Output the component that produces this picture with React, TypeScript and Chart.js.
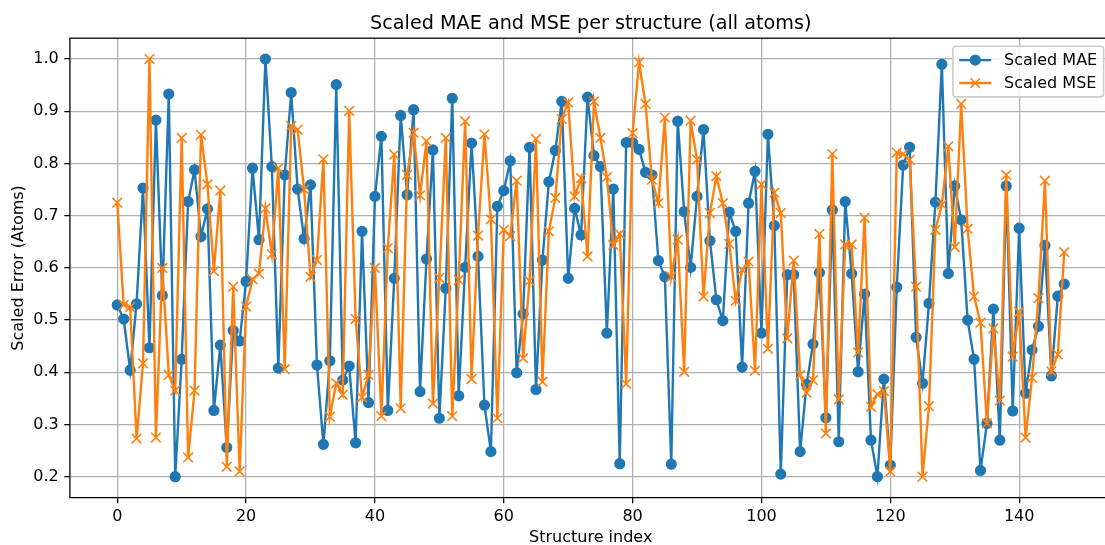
import React, { useEffect, useRef } from 'react';
import { Chart, registerables } from 'chart.js';

Chart.register(...registerables);

const structureIndex: number[] = Array.from({ length: 148 }, (_, i) => i);

const maeValues: number[] = [
  0.529, 0.502, 0.404, 0.531, 0.753, 0.447, 0.883, 0.547, 0.933, 0.200,
  0.425, 0.727, 0.788, 0.660, 0.713, 0.327, 0.452, 0.256, 0.480, 0.460,
  0.574, 0.791, 0.654, 1.000, 0.794, 0.408, 0.778, 0.936, 0.751, 0.656,
  0.759, 0.414, 0.262, 0.422, 0.951, 0.385, 0.412, 0.265, 0.670, 0.342,
  0.737, 0.852, 0.327, 0.580, 0.892, 0.740, 0.903, 0.363, 0.617, 0.826,
  0.312, 0.561, 0.925, 0.355, 0.601, 0.839, 0.622, 0.337, 0.248, 0.718,
  0.748, 0.805, 0.399, 0.512, 0.831, 0.367, 0.615, 0.765, 0.825, 0.919,
  0.580, 0.714, 0.663, 0.927, 0.815, 0.794, 0.475, 0.751, 0.225, 0.840,
  0.840, 0.827, 0.783, 0.778, 0.614, 0.583, 0.224, 0.881, 0.708, 0.601,
  0.737, 0.865, 0.652, 0.539, 0.499, 0.707, 0.670, 0.410, 0.724, 0.785,
  0.475, 0.856, 0.681, 0.205, 0.587, 0.587, 0.248, 0.377, 0.454, 0.591,
  0.313, 0.711, 0.267, 0.727, 0.589, 0.401, 0.550, 0.270, 0.200, 0.387,
  0.222, 0.563, 0.797, 0.831, 0.467, 0.379, 0.532, 0.726, 0.990, 0.589,
  0.757, 0.692, 0.500, 0.425, 0.212, 0.302, 0.521, 0.270, 0.757, 0.326,
  0.676, 0.360, 0.443, 0.488, 0.643, 0.393, 0.546, 0.569,
];

const mseValues: number[] = [
  0.725, 0.529, 0.525, 0.273, 0.417, 1.000, 0.275, 0.600, 0.395, 0.365,
  0.849, 0.237, 0.365, 0.855, 0.760, 0.594, 0.748, 0.219, 0.564, 0.210,
  0.526, 0.578, 0.589, 0.714, 0.626, 0.791, 0.406, 0.872, 0.865, 0.750,
  0.583, 0.615, 0.808, 0.315, 0.379, 0.357, 0.901, 0.502, 0.352, 0.395,
  0.600, 0.316, 0.638, 0.817, 0.331, 0.778, 0.859, 0.739, 0.843, 0.340,
  0.581, 0.849, 0.316, 0.577, 0.881, 0.387, 0.662, 0.856, 0.693, 0.312,
  0.673, 0.661, 0.767, 0.427, 0.575, 0.847, 0.382, 0.670, 0.734, 0.885,
  0.917, 0.737, 0.772, 0.622, 0.919, 0.849, 0.774, 0.644, 0.665, 0.378,
  0.858, 0.994, 0.914, 0.769, 0.724, 0.888, 0.583, 0.654, 0.401, 0.882,
  0.808, 0.545, 0.705, 0.776, 0.724, 0.646, 0.537, 0.596, 0.612, 0.403,
  0.760, 0.445, 0.744, 0.705, 0.465, 0.614, 0.395, 0.361, 0.385, 0.665,
  0.283, 0.818, 0.348, 0.645, 0.645, 0.438, 0.696, 0.334, 0.358, 0.364,
  0.210, 0.821, 0.818, 0.807, 0.564, 0.200, 0.335, 0.673, 0.721, 0.833,
  0.640, 0.914, 0.675, 0.545, 0.495, 0.302, 0.484, 0.346, 0.778, 0.430,
  0.516, 0.275, 0.390, 0.542, 0.767, 0.402, 0.434, 0.630,
];

const xTickValues: number[] = [0, 20, 40, 60, 80, 100, 120, 140];
const yTickValues: number[] = [0.2, 0.3, 0.4, 0.5, 0.6, 0.7, 0.8, 0.9, 1.0];

const seriesNames = ['Scaled MAE', 'Scaled MSE'];
const titleText = 'Scaled MAE and MSE per structure (all atoms)';
const xLabelText = 'Structure index';
const yLabelText = 'Scaled Error (Atoms)';

const BLUE = '#1f77b4';
const ORANGE = '#ff7f0e';
const FONT = '"DejaVu Sans", sans-serif';
const FS = 16;

const CANVAS_W = 1120;
const CANVAS_H = 545;

export default function App() {
  const ref = useRef<HTMLCanvasElement | null>(null);

  useEffect(() => {
    if (!ref.current) return;
    const n = structureIndex.length;
    const xMin = structureIndex[0] - 0.05 * (structureIndex[n - 1] - structureIndex[0]);
    const xMax = structureIndex[n - 1] + 0.05 * (structureIndex[n - 1] - structureIndex[0]);
    const allVals = maeValues.concat(mseValues);
    const vMin = Math.min(...allVals);
    const vMax = Math.max(...allVals);
    const yMin = vMin - 0.05 * (vMax - vMin);
    const yMax = vMax + 0.05 * (vMax - vMin);

    const decor = {
      id: 'decor',
      afterDatasetsDraw(chart: any) {
        const { ctx, chartArea: a } = chart;
        ctx.save();
        // axes frame
        ctx.strokeStyle = '#000';
        ctx.lineWidth = 1.28;
        ctx.strokeRect(a.left, a.top, a.right - a.left, a.bottom - a.top);

        // legend
        ctx.font = `${FS}px ${FONT}`;
        const pad = 0.4 * FS;
        const handleLen = 2 * FS;
        const textPad = 0.8 * FS;
        const textW = Math.max(...seriesNames.map((s) => ctx.measureText(s).width));
        const w = pad + handleLen + textPad + textW + pad;
        const h = 50.7;
        const right = a.right - 0.5 * FS;
        const left = right - w;
        const top = a.top + 0.5 * FS;
        const r = 0.2 * FS;
        ctx.beginPath();
        ctx.moveTo(left + r, top);
        ctx.lineTo(left + w - r, top);
        ctx.arcTo(left + w, top, left + w, top + r, r);
        ctx.lineTo(left + w, top + h - r);
        ctx.arcTo(left + w, top + h, left + w - r, top + h, r);
        ctx.lineTo(left + r, top + h);
        ctx.arcTo(left, top + h, left, top + h - r, r);
        ctx.lineTo(left, top + r);
        ctx.arcTo(left, top, left + r, top, r);
        ctx.closePath();
        ctx.fillStyle = 'rgba(255,255,255,0.8)';
        ctx.fill();
        ctx.strokeStyle = '#cccccc';
        ctx.lineWidth = 1.6;
        ctx.stroke();

        const rowH = (h - 2 * pad - 0.5 * FS) / 2;
        const colors = [BLUE, ORANGE];
        seriesNames.forEach((name, i) => {
          const cy = top + pad + rowH / 2 + i * (rowH + 0.5 * FS);
          const hx0 = left + pad;
          const hx1 = hx0 + handleLen;
          const mx = (hx0 + hx1) / 2;
          ctx.strokeStyle = colors[i];
          ctx.lineWidth = 2.4;
          ctx.beginPath();
          ctx.moveTo(hx0, cy);
          ctx.lineTo(hx1, cy);
          ctx.stroke();
          if (i === 0) {
            ctx.fillStyle = BLUE;
            ctx.beginPath();
            ctx.arc(mx, cy, 5.6, 0, Math.PI * 2);
            ctx.fill();
          } else {
            ctx.lineWidth = 1.6;
            ctx.beginPath();
            ctx.moveTo(mx - 4.8, cy - 4.8);
            ctx.lineTo(mx + 4.8, cy + 4.8);
            ctx.moveTo(mx - 4.8, cy + 4.8);
            ctx.lineTo(mx + 4.8, cy - 4.8);
            ctx.stroke();
          }
          ctx.fillStyle = '#000';
          ctx.textAlign = 'left';
          ctx.textBaseline = 'middle';
          ctx.fillText(name, hx1 + textPad, cy + 1);
        });

        // title
        ctx.fillStyle = '#000';
        ctx.textAlign = 'center';
        ctx.textBaseline = 'alphabetic';
        ctx.font = `${19.2}px ${FONT}`;
        ctx.fillText(titleText, (a.left + a.right) / 2, a.top - 9.6);

        // x label
        ctx.font = `${FS}px ${FONT}`;
        ctx.textBaseline = 'middle';
        ctx.fillText(xLabelText, (a.left + a.right) / 2, 538);

        // y label
        ctx.save();
        ctx.translate(19, (a.top + a.bottom) / 2);
        ctx.rotate(-Math.PI / 2);
        ctx.textAlign = 'center';
        ctx.textBaseline = 'middle';
        ctx.fillText(yLabelText, 0, 0);
        ctx.restore();

        ctx.restore();
      },
    };

    const chart = new Chart(ref.current, {
      type: 'line',
      data: {
        datasets: [
          {
            label: seriesNames[0],
            data: structureIndex.map((x, i) => ({ x, y: maeValues[i] })),
            borderColor: BLUE,
            backgroundColor: BLUE,
            borderWidth: 2.4,
            pointRadius: 4.8,
            pointBorderWidth: 1.6,
            pointStyle: 'circle',
            pointBackgroundColor: BLUE,
            pointBorderColor: BLUE,
            tension: 0,
            fill: false,
            order: 1,
          },
          {
            label: seriesNames[1],
            data: structureIndex.map((x, i) => ({ x, y: mseValues[i] })),
            borderColor: ORANGE,
            backgroundColor: ORANGE,
            borderWidth: 2.4,
            pointRadius: 6.8,
            pointBorderWidth: 1.6,
            pointStyle: 'crossRot',
            pointBorderColor: ORANGE,
            tension: 0,
            fill: false,
            order: 0,
          },
        ],
      },
      options: {
        animation: false,
        responsive: false,
        devicePixelRatio: 1,
        events: [],
        layout: { padding: { left: 0, right: CANVAS_W - 1113.2, top: 38.2, bottom: 0 } },
        plugins: {
          legend: { display: false },
          title: { display: false },
          tooltip: { enabled: false },
        },
        scales: {
          x: {
            type: 'linear',
            min: xMin,
            max: xMax,
            afterBuildTicks: (scale: any) => {
              scale.ticks = xTickValues.map((v) => ({ value: v }));
            },
            afterFit: (scale: any) => {
              scale.height = CANVAS_H - 497.6;
            },
            ticks: {
              color: '#000',
              font: { family: FONT, size: FS },
              padding: 4,
              maxRotation: 0,
              autoSkip: false,
              callback: (v: any) => String(v),
            },
            grid: {
              color: '#b0b0b0',
              lineWidth: 1.28,
              drawTicks: true,
              tickLength: 5.6,
              tickColor: '#000',
              tickWidth: 1.28,
            },
            border: { display: false },
          },
          y: {
            type: 'linear',
            min: yMin,
            max: yMax,
            afterBuildTicks: (scale: any) => {
              scale.ticks = yTickValues.map((v) => ({ value: v }));
            },
            afterFit: (scale: any) => {
              scale.width = 69.9;
            },
            ticks: {
              color: '#000',
              font: { family: FONT, size: FS },
              padding: 5.6,
              autoSkip: false,
              callback: (v: any) => Number(v).toFixed(1),
            },
            grid: {
              color: '#b0b0b0',
              lineWidth: 1.28,
              drawTicks: true,
              tickLength: 5.6,
              tickColor: '#000',
              tickWidth: 1.28,
            },
            border: { display: false },
          },
        },
      },
      plugins: [decor],
    } as any);

    return () => chart.destroy();
  }, []);

  return (
    <div
      style={{
        position: 'fixed',
        left: 0,
        top: 0,
        width: 1105,
        height: 545,
        overflow: 'hidden',
        background: '#fff',
      }}
    >
      <canvas
        ref={ref}
        width={CANVAS_W}
        height={CANVAS_H}
        style={{ display: 'block', width: CANVAS_W, height: CANVAS_H }}
      />
    </div>
  );
}
